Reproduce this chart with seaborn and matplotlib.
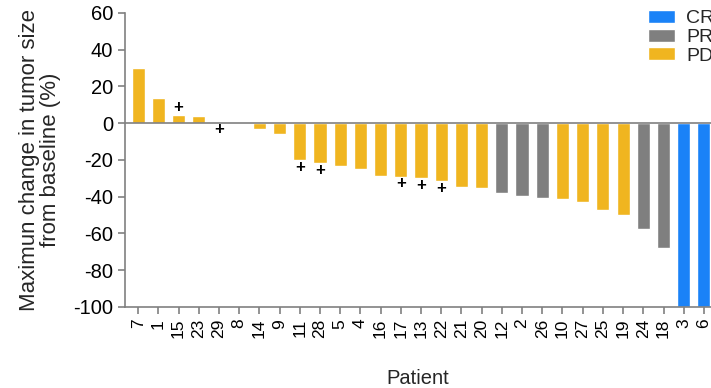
import numpy as np
import pandas as pd
import matplotlib
matplotlib.use("Agg")
import matplotlib.pyplot as plt
import seaborn as sns

# ------------------------------------------------------------
# DATA
# ------------------------------------------------------------
patients = ["7", "1", "15", "23", "29", "8", "14", "9", "11", "28", "5", "4",
            "16", "17", "13", "22", "21", "20", "12", "2", "26", "10", "27",
            "25", "19", "24", "18", "3", "6"]
change = [30, 14, 4.5, 4, 0.7, 0, -3, -6, -20, -21.5, -23.5, -25,
          -28.5, -29, -30, -31.5, -34.5, -35, -38, -39.5, -40.5, -41, -43,
          -47, -50, -57.5, -68, -100, -100]
response = ["PD", "PD", "PD", "PD", "PD", "PD", "PD", "PD", "PD", "PD", "PD", "PD",
            "PD", "PD", "PD", "PD", "PD", "PD", "PR", "PR", "PR", "PD", "PD",
            "PD", "PD", "PR", "PR", "CR", "CR"]
plus_patients = ["15", "29", "11", "28", "17", "13", "22"]

resp_order = ["CR", "PR", "PD"]
palette = {"CR": "#1A82F7", "PR": "#7F7F7F", "PD": "#F0B520"}

df = pd.DataFrame({"patient": patients, "change": change, "response": response})

# ------------------------------------------------------------
# PLOT
# ------------------------------------------------------------
sns.set_style("ticks")
plt.rcParams["font.family"] = ["Liberation Sans", "DejaVu Sans"]
plt.rcParams["axes.unicode_minus"] = False

fig = plt.figure(figsize=(7.11, 3.88), dpi=100)
ax = fig.add_axes([0.1758, 0.2088, 0.8242, 0.7577])

sns.barplot(data=df, x="patient", y="change", hue="response", order=patients,
            hue_order=resp_order, palette=palette, dodge=False, width=0.65,
            saturation=1, ax=ax)

# zero line on top of the bars
ax.axhline(0, color="#808080", lw=1.2, zorder=3)

# "+" markers just past the end of the bar
for i, p in enumerate(patients):
    if p in plus_patients:
        v = change[i]
        y = v + 4 if v > 1 else v - 4
        ax.text(i, y, "+", ha="center", va="center", fontsize=12,
                fontweight="bold", color="black")

ax.set_ylim(-100, 60)
ax.set_yticks(np.arange(-100, 61, 20))
ax.set_xlim(-0.65, 28.35)

gray = "#808080"
sns.despine(ax=ax)
for s in ["left", "bottom"]:
    ax.spines[s].set_color(gray)
    ax.spines[s].set_linewidth(1.2)
ax.tick_params(axis="y", colors=gray, labelcolor="black", labelsize=14.5,
               length=5, width=1.2)
ax.tick_params(axis="x", colors=gray, labelcolor="black", labelsize=12.5,
               length=5, width=1.2, labelrotation=90)

ax.set_ylabel("Maximun change in tumor size\nfrom baseline (%)", fontsize=16,
              labelpad=9, linespacing=1.0)
ax.set_xlabel("Patient", fontsize=14.5, labelpad=22)

handles, labels = ax.get_legend_handles_labels()
ax.get_legend().remove()
fig.legend(handles, labels, loc="upper left", bbox_to_anchor=(0.912, 0.975),
           frameon=False, fontsize=14, borderpad=0, borderaxespad=0,
           handlelength=1.35, handleheight=0.65, handletextpad=0.6,
           labelspacing=0.08)

fig.savefig("out.png", dpi=100)
